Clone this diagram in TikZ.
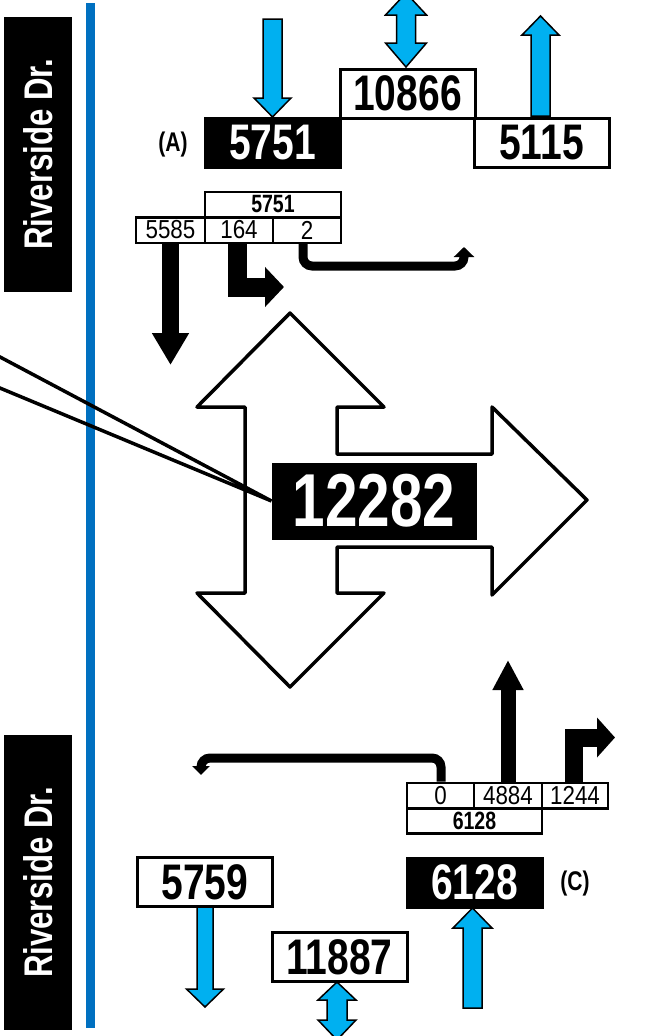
\documentclass[tikz,border=0pt]{standalone}
\usepackage{fontspec}
\usetikzlibrary{arrows.meta}
\newfontfamily\nar{Liberation Sans}[FakeStretch=0.78]
\newfontfamily\cellfont{Liberation Sans}[FakeStretch=0.86]
\definecolor{flow}{HTML}{00B0F0}
\definecolor{road}{HTML}{0070C0}

% x, tail y, head base y, tip y, half shaft, half head
\newcommand{\varrow}[6]{%
  \filldraw[bluearrow] (#1-#5,#2) -- (#1-#5,#3) -- (#1-#6,#3) -- (#1,#4) -- (#1+#6,#3) -- (#1+#5,#3) -- (#1+#5,#2) -- cycle;}
% x, tip 1, base 1, base 2, tip 2, half shaft, half head
\newcommand{\dvarrow}[7]{%
  \filldraw[bluearrow] (#1,#2) -- (#1+#7,#3) -- (#1+#6,#3) -- (#1+#6,#4) -- (#1+#7,#4) -- (#1,#5) -- (#1-#7,#4) -- (#1-#6,#4) -- (#1-#6,#3) -- (#1-#7,#3) -- cycle;}

\begin{document}
\begin{tikzpicture}[x=1pt,y=-1pt,
  vol/.style={draw,line width=3pt,minimum width=135pt,minimum height=49pt,inner sep=0pt,font=\nar\bfseries\fontsize{50}{50}\selectfont},
  volk/.style={vol,fill=black,text=white},
  cell/.style={draw,line width=2.5pt,minimum height=25.5pt,inner sep=0pt,font=\cellfont\fontsize{26}{26}\selectfont},
  cellb/.style={cell,font=\nar\bfseries\fontsize{25}{25}\selectfont},
  street/.style={fill=black,text=white,rotate=90,minimum height=68pt,inner sep=0pt,font=\nar\bfseries\fontsize{40}{40}\selectfont},
  tag/.style={font=\nar\bfseries\fontsize{27}{27}\selectfont},
  bluearrow/.style={fill=flow,draw=black,line width=1.5pt},
  fat/.style={line width=#1,line join=miter},
  uturn/.style={line width=9pt,rounded corners=9pt},
  move/.style={draw,line width=3.5pt,line join=round}]
\useasboundingbox (0,0) rectangle (645,1036);

% street and road edge
\node[street,minimum width=275pt] (streetA) at (38,154.5) {Riverside Dr.};
\node[street,minimum width=295pt] (streetC) at (38,882.5) {Riverside Dr.};
\draw[road,line width=9pt] (90,3) -- (90,1028);

% intersection movements
\draw[move] (290,313) -- (384,407) -- (337,407) -- (337,454) -- (492,454) -- (492,407)
  -- (587,500) -- (492,595) -- (492,547) -- (337,547) -- (337,593) -- (384,593)
  -- (290,687) -- (197,593) -- (245,593) -- (245,407) -- (197,407) -- cycle;
\coordinate (cl1) at (-3,355.4);
\coordinate (cl2) at (-3,386.8);
\node[volk,minimum width=202pt,minimum height=74pt,font=\nar\bfseries\fontsize{75}{75}\selectfont] (tot) at (374,501) {12282};
\draw[line width=3.5pt] (cl1) -- (tot.west) -- (cl2);

% leg A
\node[volk] (inA) at (272.5,143) {5751};
\node[vol] (sumA) at (407.5,93.5) {10866};
\node[vol] (outA) at (541.5,143) {5115};
\node[tag] (tagA) at (173,145) {(A)};
\varrow{272.5}{19}{98}{117}{9.5}{18.5}
\dvarrow{406}{-7}{15}{43}{67}{9.5}{20.5}
\varrow{540.5}{116}{35}{16}{9.5}{18.5}

\node[cellb,minimum width=136pt] (ttop) at (273,204.5) {5751};
\node[cell,minimum width=69pt] (t5585) at (170.5,230) {5585};
\node[cell,minimum width=68pt] (t164) at (239,230) {164};
\node[cell,minimum width=68pt] (t2) at (307,230) {2};

\coordinate (d5585) at (171,365);
\draw[fat=17pt,-{Triangle[width=35pt,length=32pt]}] (t5585.south) -- (t5585.south |- d5585);
\coordinate (k164) at (237.5,287);
\coordinate (e164) at (284,287);
\draw[fat=19pt,-{Triangle[width=39pt,length=19pt]}] (t164.south -| k164) -- (k164) -- (e164);
\coordinate (u2a) at (303,266);
\coordinate (u2b) at (464,266);
\coordinate (e2) at (464,247);
\draw[uturn,-{Triangle[width=20pt,length=10pt]}] (t2.south -| u2a) -- (u2a) -- (u2b) -- (e2);

% leg C
\node[vol] (outC) at (205,882) {5759};
\node[vol] (sumC) at (339.5,957) {11887};
\node[volk] (inC) at (474.5,882.5) {6128};
\node[tag] (tagC) at (575,884) {(C)};
\varrow{205}{907}{989}{1007}{8}{18.5}
\dvarrow{337}{982}{1000}{1020}{1040}{10}{19}
\varrow{472.5}{1008}{928}{908}{9.5}{19.5}

\node[cell,minimum width=67pt] (b0) at (440.5,795.5) {0};
\node[cell,minimum width=68pt] (b4884) at (508,795.5) {4884};
\node[cell,minimum width=66pt] (b1244) at (575,795.5) {1244};
\node[cellb,minimum width=135pt] (bbot) at (474.5,820.5) {6128};

\coordinate (e4884) at (508,660);
\draw[fat=15pt,-{Triangle[width=29pt,length=30pt]}] (b4884.north) -- (b4884.north |- e4884);
\coordinate (k1244) at (573.5,737.5);
\coordinate (e1244) at (615,737.5);
\draw[fat=18pt,-{Triangle[width=39pt,length=18pt]}] (b1244.north -| k1244) -- (k1244) -- (e1244);
\coordinate (u0a) at (441,758);
\coordinate (u0b) at (201,758);
\coordinate (e0) at (201,775);
\draw[uturn,-{Triangle[width=17pt,length=9pt]}] (b0.north -| u0a) -- (u0a) -- (u0b) -- (e0);
\end{tikzpicture}
\end{document}
